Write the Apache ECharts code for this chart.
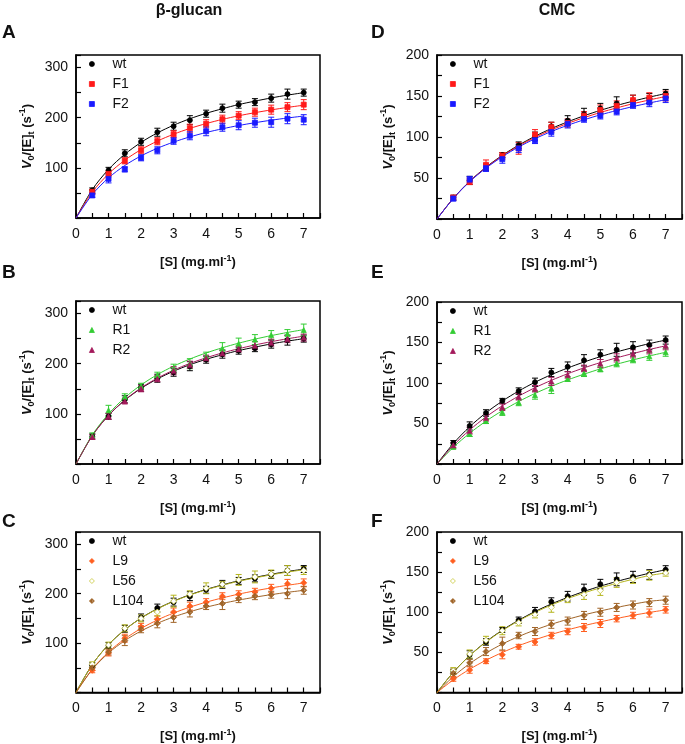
<!DOCTYPE html>
<html><head><meta charset="utf-8">
<script src="https://cdn.jsdelivr.net/npm/echarts@6/dist/echarts.min.js"></script>
<style>html,body{margin:0;padding:0;background:#fff}#c{width:685px;height:744px}</style>
</head><body><div id="c"></div>
<script>
// ---- data ----
const xs = [0.5,1,1.5,2,2.5,3,3.5,4,4.5,5,5.5,6,6.5,7];
const fitX = [0,0.5,1,1.5,2,2.5,3,3.5,4,4.5,5,5.5,6,6.5,7];
const xTickLabels = ['0','1','2','3','4','5','6','7'];

// beta-glucan
const bgWt      = [55,95,129,152,171,183,195,208,219,226,231,239,247,250];
const bgWtErr   = [5,6,7,7,8,8,9,7,8,7,7,8,10,7];
const bgWtFit   = [0,56.6,97,127,150.8,169.6,185,197.9,208.7,217.9,226.2,233,239.4,245,249.9];
const bgF1      = [52,88,114,135,153,167,179,188,197,204,211,216,221,226];
const bgF1Err   = [5,6,6,7,7,7,8,8,8,8,8,9,9,10];
const bgF1Fit   = [0,51.5,88,115.3,136.4,153.3,167.1,178.6,188.3,196.6,203.8,210,215.5,220.5,224.9];
const bgF2      = [45,78,97,120,135,154,164,173,181,185,190,191,198,196];
const bgF2Err   = [4,8,5,6,7,7,8,9,8,9,9,10,10,10];
const bgF2Fit   = [0,46.8,80,104.7,123.8,139,151.4,161.7,170.5,177.9,184.4,190,195,199.4,203.3];
const bgR1      = [57,107,134,155,177,190,200,215,230,240,248,257,259,267];
const bgR1Err   = [5,10,6,6,6,9,10,8,12,11,10,9,9,12];
const bgR1Fit   = [0,57.8,100,132.2,157.6,178.2,195.1,209.3,221.4,231.8,240.9,248.9,256,262.3,267.9];
const bgR2      = [54,95,125,150,170,186,198,211,221,229,236,242,249,252];
const bgR2Err   = [5,6,5,6,6,8,7,6,6,6,8,7,7,7];
const bgR2Fit   = [0,56.3,97,127.7,151.8,171.2,187.2,200.5,211.8,221.5,229.9,237.3,243.9,249.7,254.9];
const bgL9      = [45,80,110,133,148,163,175,183,195,199,204,211,220,222];
const bgL9Err   = [5,6,8,7,7,8,8,7,7,7,7,8,9,8];
const bgL9Fit   = [0,47.3,82,108.6,129.7,146.8,160.9,172.8,182.9,191.6,199.2,205.9,211.8,217.1,221.9];
const bgL56     = [57,96,130,150,163,185,199,211,219,228,234,240,247,247];
const bgL56Err  = [5,6,7,7,8,12,7,11,6,11,12,8,10,8];
const bgL56Fit  = [0,56.6,97,127,150.5,169.2,184.5,197.3,208,217.1,225.2,232,238.3,243.8,248.6];
const bgL104    = [50,82,105,128,140,152,163,175,180,190,195,198,200,207];
const bgL104Err = [5,6,10,7,9,10,10,7,12,8,7,7,10,8];
const bgL104Fit = [0,46.6,80,105,124.6,140.1,153,163.6,172.7,180.4,187.1,193,198.2,202.8,206.9];

// CMC
const cmWt      = [26,47,63,78,90,101,113,120,128,135,141,144,147,153];
const cmWtErr   = [3,5,4,3,4,5,5,6,7,6,8,7,6,5];
const cmWtFit   = [0,25.3,46,63.2,77.7,90.1,100.9,110.3,118.5,125.9,132.5,138.4,143.7,148.6,153];
const cmF1      = [26,46,66,77,86,103,112,117,126,133,138,145,148,150];
const cmF1Err   = [3,4,6,4,7,6,6,5,5,6,6,6,6,6];
const cmF1Fit   = [0,25.2,45.8,62.7,77,89,99.5,108.6,116.6,123.6,129.9,135.5,140.6,145.2,149.4];
const cmF2      = [25,48,62,73,86,96,106,116,122,126,131,139,142,147];
const cmF2Err   = [3,4,4,5,5,4,5,5,4,4,4,4,5,5];
const cmF2Fit   = [0,25.1,45.5,62.1,76,87.8,97.9,106.7,114.3,121,127,132.3,137.1,141.5,145.5];
const cmR1      = [21,37,53,64,76,85,93,105,112,117,124,129,133,138];
const cmR1Err   = [2,3,3,4,4,5,6,3,4,3,4,4,5,5];
const cmR1Fit   = [0,20.6,38,52.9,65.8,77.1,87.1,95.9,103.8,110.9,117.4,123.2,128.5,133.4,137.9];
const cmR2      = [23,41,57,70,83,93,102,110,118,124,131,136,141,146];
const cmR2Err   = [3,4,4,4,4,4,5,4,4,5,5,5,5,5];
const cmR2Fit   = [0,22.9,42,58.1,71.9,83.8,94.2,103.3,111.4,118.7,125.2,131.1,136.4,141.4,145.9];
const cmL9      = [17,28,39,47,57,63,71,76,81,86,92,96,99,103];
const cmL9Err   = [3,4,3,5,3,4,4,4,5,5,4,4,5,4];
const cmL9Fit   = [0,15.8,29,40.2,49.9,58.3,65.7,72.3,78.1,83.3,88,92.3,96.2,99.7,103];
const cmL56     = [27,48,65,77,87,97,106,116,122,127,137,141,146,149];
const cmL56Err  = [4,5,5,5,4,4,6,4,6,6,6,5,6,4];
const cmL56Fit  = [0,25.2,45.8,62.8,77.1,89.3,99.8,109,117,124.1,130.4,136,141.1,145.7,149];
const cmL104    = [24,37,51,61,71,76,85,89,96,100,106,109,112,115];
const cmL104Err = [5,4,5,8,4,5,5,5,5,5,5,5,5,5];
const cmL104Fit = [0,19.9,36,49.2,60.4,69.8,77.9,85,91.2,96.7,101.6,106,110,113.6,115.5];

// ---- styling ----
const FONT = 'Arial, "Liberation Sans", Helvetica, sans-serif';
const C = {wt:'#000000', F1:'#ff1a1a', F2:'#1a1aff', R1:'#33cc33', R2:'#a3195b',
           L9:'#ff5e1f', L56:'#c8c83a', L104:'#a06428'};
const halfDiamond = 'path://M0,-10 L10,0 L0,10 L-10,0 Z M1,-5.5 L1,5.5 L6.5,0 Z';
const S = {
  wt:{symbol:'circle', fill:C.wt, border:C.wt, size:5},
  F1:{symbol:'rect', fill:C.F1, border:C.F1, size:5},
  F2:{symbol:'rect', fill:C.F2, border:C.F2, size:5},
  R1:{symbol:'triangle', fill:C.R1, border:C.R1, size:5},
  R2:{symbol:'triangle', fill:C.R2, border:C.R2, size:5},
  L9:{symbol:'diamond', fill:C.L9, border:C.L9, size:6},
  L56:{symbol:'diamond', fill:'#ffffff', border:C.L56, size:6},
  L104:{symbol:halfDiamond, fill:C.L104, border:C.L104, size:6}
};

const L_LEFT = 76, L_W = 244, R_LEFT = 437, R_W = 245;
const panels = [
  {left:L_LEFT, w:L_W, top:55,  h:163, max:325, step:50, lab:100, groups:[['wt',bgWt,bgWtErr,bgWtFit],['F1',bgF1,bgF1Err,bgF1Fit],['F2',bgF2,bgF2Err,bgF2Fit]]},
  {left:L_LEFT, w:L_W, top:301, h:163, max:325, step:50, lab:100, groups:[['wt',bgWt,bgWtErr,bgWtFit],['R1',bgR1,bgR1Err,bgR1Fit],['R2',bgR2,bgR2Err,bgR2Fit]]},
  {left:L_LEFT, w:L_W, top:532, h:163, max:325, step:50, lab:100, groups:[['wt',bgWt,bgWtErr,bgWtFit],['L9',bgL9,bgL9Err,bgL9Fit],['L56',bgL56,bgL56Err,bgL56Fit],['L104',bgL104,bgL104Err,bgL104Fit]]},
  {left:R_LEFT, w:R_W, top:55,  h:164, max:200, step:25, lab:50, groups:[['wt',cmWt,cmWtErr,cmWtFit],['F1',cmF1,cmF1Err,cmF1Fit],['F2',cmF2,cmF2Err,cmF2Fit]]},
  {left:R_LEFT, w:R_W, top:302, h:162, max:200, step:25, lab:50, groups:[['wt',cmWt,cmWtErr,cmWtFit],['R1',cmR1,cmR1Err,cmR1Fit],['R2',cmR2,cmR2Err,cmR2Fit]]},
  {left:R_LEFT, w:R_W, top:532, h:162, max:200, step:25, lab:50, groups:[['wt',cmWt,cmWtErr,cmWtFit],['L9',cmL9,cmL9Err,cmL9Fit],['L56',cmL56,cmL56Err,cmL56Fit],['L104',cmL104,cmL104Err,cmL104Fit]]}
];

const grid = [], xAxis = [], yAxis = [], series = [], legend = [];
const axisLine = {show:true, lineStyle:{color:'#000', width:1.5}};
panels.forEach((p, k) => {
  grid.push({left:p.left, top:p.top, width:p.w, height:p.h, show:true, borderColor:'#000', borderWidth:1.5, backgroundColor:'transparent'});
  xAxis.push({gridIndex:k, type:'value', min:0, max:7.5, interval:0.5,
    axisLine, axisTick:{inside:true, length:5, lineStyle:{color:'#000', width:1.2}},
    splitLine:{show:false},
    axisLabel:{fontFamily:FONT, fontSize:14, color:'#111', margin:9,
      formatter:v => (Math.abs(v - Math.round(v)) < 1e-9 && v <= 7) ? xTickLabels[Math.round(v)] : ''},
    name:'{b|[S] (mg.ml}{sup|-1}{b|)}', nameLocation:'middle', nameGap:36,
    nameTextStyle:{rich:{b:{fontFamily:FONT, fontSize:13, fontWeight:'bold', color:'#111', lineHeight:16},
                         sup:{fontFamily:FONT, fontSize:9, fontWeight:'bold', color:'#111', verticalAlign:'top', lineHeight:16}}}
  });
  yAxis.push({gridIndex:k, type:'value', min:0, max:p.max, interval:p.step,
    axisLine, axisTick:{inside:true, length:5, lineStyle:{color:'#000', width:1.2}},
    splitLine:{show:false},
    axisLabel:{fontFamily:FONT, fontSize:14, color:'#111', margin:8,
      formatter:v => (v > 0 && v % p.lab === 0) ? String(v) : ''},
    name:'{i|V}{sub|0}{b|/[E]}{sub|t}{b| (s}{sup|-1}{b|)}', nameLocation:'middle', nameGap:40, nameRotate:90,
    nameTextStyle:{rich:{
      i:{fontFamily:FONT, fontSize:13, fontWeight:'bold', fontStyle:'italic', color:'#111', lineHeight:18},
      b:{fontFamily:FONT, fontSize:13, fontWeight:'bold', color:'#111', lineHeight:18},
      sub:{fontFamily:FONT, fontSize:9, fontWeight:'bold', color:'#111', verticalAlign:'bottom', lineHeight:18},
      sup:{fontFamily:FONT, fontSize:9, fontWeight:'bold', color:'#111', verticalAlign:'top', lineHeight:18}}}
  });
  const names = [];
  p.groups.forEach(([name, vals, errs, fit]) => {
    const st = S[name];
    names.push({name, icon: st.symbol, itemStyle:{color:st.fill, borderColor:st.border, borderWidth:0.8}});
    series.push({type:'line', name:name+' fit', xAxisIndex:k, yAxisIndex:k, silent:true,
      data:fitX.map((x,i)=>[x, fit[i]]), showSymbol:false, smooth:0.3,
      lineStyle:{color: name==='L56' ? '#b4b41e' : st.border, width:1}, z:2});
    series.push({type:'custom', name:name+' err', xAxisIndex:k, yAxisIndex:k, silent:true,
      data:xs.map((x,i)=>[x, vals[i], errs[i]]),
      renderItem:(params, api) => {
        const x = api.value(0), y = api.value(1), e = api.value(2);
        const top = api.coord([x, y+e]), bot = api.coord([x, y-e]);
        const col = name==='L56' ? '#b4b41e' : st.border;
        const ls = {stroke:col, lineWidth:1};
        return {type:'group', children:[
          {type:'line', shape:{x1:top[0], y1:top[1], x2:bot[0], y2:bot[1]}, style:ls},
          {type:'line', shape:{x1:top[0]-3, y1:top[1], x2:top[0]+3, y2:top[1]}, style:ls},
          {type:'line', shape:{x1:bot[0]-3, y1:bot[1], x2:bot[0]+3, y2:bot[1]}, style:ls}
        ]};
      }, z:3});
    series.push({type:'scatter', name, xAxisIndex:k, yAxisIndex:k,
      data:xs.map((x,i)=>[x, vals[i]]), symbol:st.symbol, symbolSize:st.size,
      itemStyle:{color:st.fill, borderColor:st.border, borderWidth:0.8, opacity:1}, z:4});
  });
  legend.push({data:names, orient:'vertical', left:p.left+13, top:p.top+1, padding:0,
    itemWidth:5, itemHeight:5, itemGap:4, selectedMode:false,
    textStyle:{fontFamily:FONT, fontSize:14, color:'#111', lineHeight:16, padding:[0,0,0,13]}});
});

const txt = (x, y, t, size, align) => ({type:'text', x, y,
  style:{text:t, fontFamily:FONT, fontSize:size, fontWeight:'bold', fill:'#111', textAlign:align||'left', textVerticalAlign:'middle'}});
const graphic = [
  txt(189, 11, 'β-glucan', 16, 'center'), txt(557, 11, 'CMC', 16, 'center'),
  txt(2, 33, 'A', 19), txt(2, 273, 'B', 19), txt(2, 522, 'C', 19),
  txt(371, 33, 'D', 19), txt(371, 273, 'E', 19), txt(371, 522, 'F', 19)
];

const chart = echarts.init(document.getElementById('c'));
chart.setOption({animation:false, backgroundColor:'#fff', grid, xAxis, yAxis, series, legend, graphic});
</script></body></html>
